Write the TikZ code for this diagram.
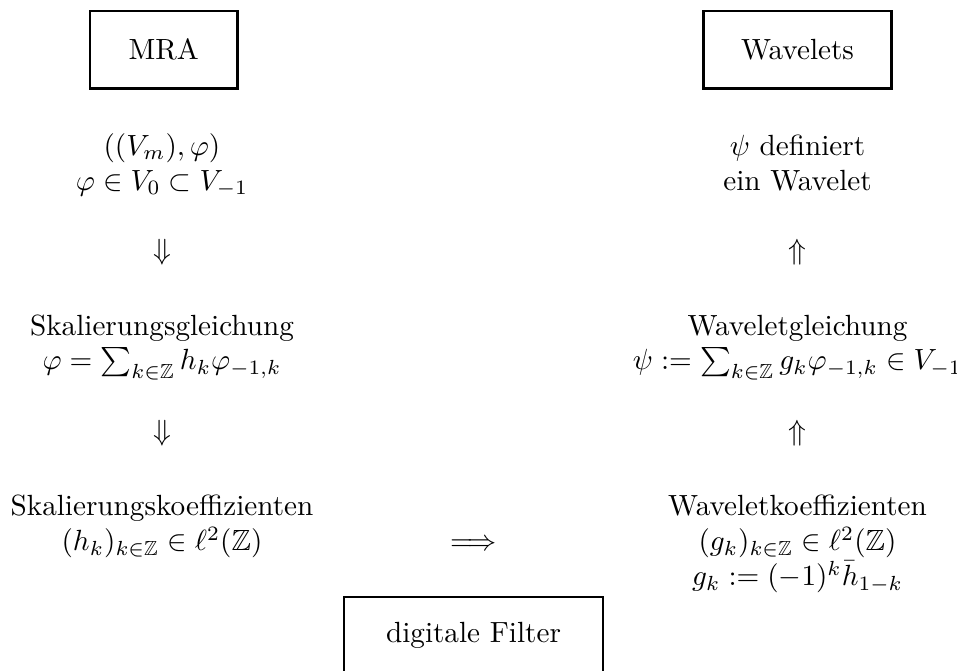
\documentclass[tikz,border=0pt]{standalone}
\usepackage{amsmath}
\usepackage{amsfonts}
\usepackage{amssymb}

\begin{document}
\begin{tikzpicture}[titlebox/.style={draw, thick, minimum height=0.93cm},
                    line/.style={anchor=base, inner sep=0pt}]

    \useasboundingbox (0,0) rectangle (11.52,8.07);

    % Titles
    \node[titlebox, minimum width=1.78cm] (mra) at (1.97,7.47) {MRA};
    \node[titlebox, minimum width=2.26cm] (wav) at (9.60,7.47) {Wavelets};

    % MRA pair
    \node[line] (mrapair) at (1.95,6.20) {$((V_m),\varphi)$};
    \node[line] (mrasub) at (1.95,5.78) {$\varphi\in V_0\subset V_{-1}$};

    % Implication down
    \node[line] (down1) at (1.95,4.95) {$\Downarrow$};

    % Scaling equation
    \node[line] (skalgl) at (1.95,4.03) {Skalierungsgleichung};
    \node[line] (skalsum) at (1.95,3.62) {$\varphi=\sum_{k\in\mathbb{Z}}h_k\varphi_{-1,k}$};

    % Implication down
    \node[line] (down2) at (1.95,2.77) {$\Downarrow$};

    % Scaling coefficients
    \node[line] (skalko) at (1.95,1.87) {Skalierungskoeffizienten};
    \node[line] (skalh) at (1.95,1.44) {$(h_k)_{k\in\mathbb{Z}}\in\ell^2(\mathbb{Z})$};

    % From scaling to wavelet coefficients
    \node[line] (right1) at (5.70,1.44) {$\Longrightarrow$};

    % Wavelet definition
    \node[line] (wavdef) at (9.60,6.20) {$\psi$ definiert};
    \node[line] (wavein) at (9.60,5.78) {ein Wavelet};

    % Implication up
    \node[line] (up1) at (9.60,4.95) {$\Uparrow$};

    % Wavelet equation
    \node[line] (wavgl) at (9.60,4.03) {Waveletgleichung};
    \node[line] (wavsum) at (9.60,3.62) {$\psi:=\sum_{k\in\mathbb{Z}}g_k\varphi_{-1,k}\in V_{-1}$};

    % Implication up
    \node[line] (up2) at (9.60,2.77) {$\Uparrow$};

    % Wavelet coefficients
    \node[line] (wavko) at (9.60,1.87) {Waveletkoeffizienten};
    \node[line] (wavg) at (9.60,1.44) {$(g_k)_{k\in\mathbb{Z}}\in\ell^2(\mathbb{Z})$};
    \node[line] (wavgk) at (9.60,1.02) {$g_k:=(-1)^k\bar{h}_{1-k}$};

    % Filter box, cut by the lower edge
    \node[titlebox, minimum width=3.12cm] (filter) at (5.70,0.42) {digitale Filter};

\end{tikzpicture}
\end{document}
